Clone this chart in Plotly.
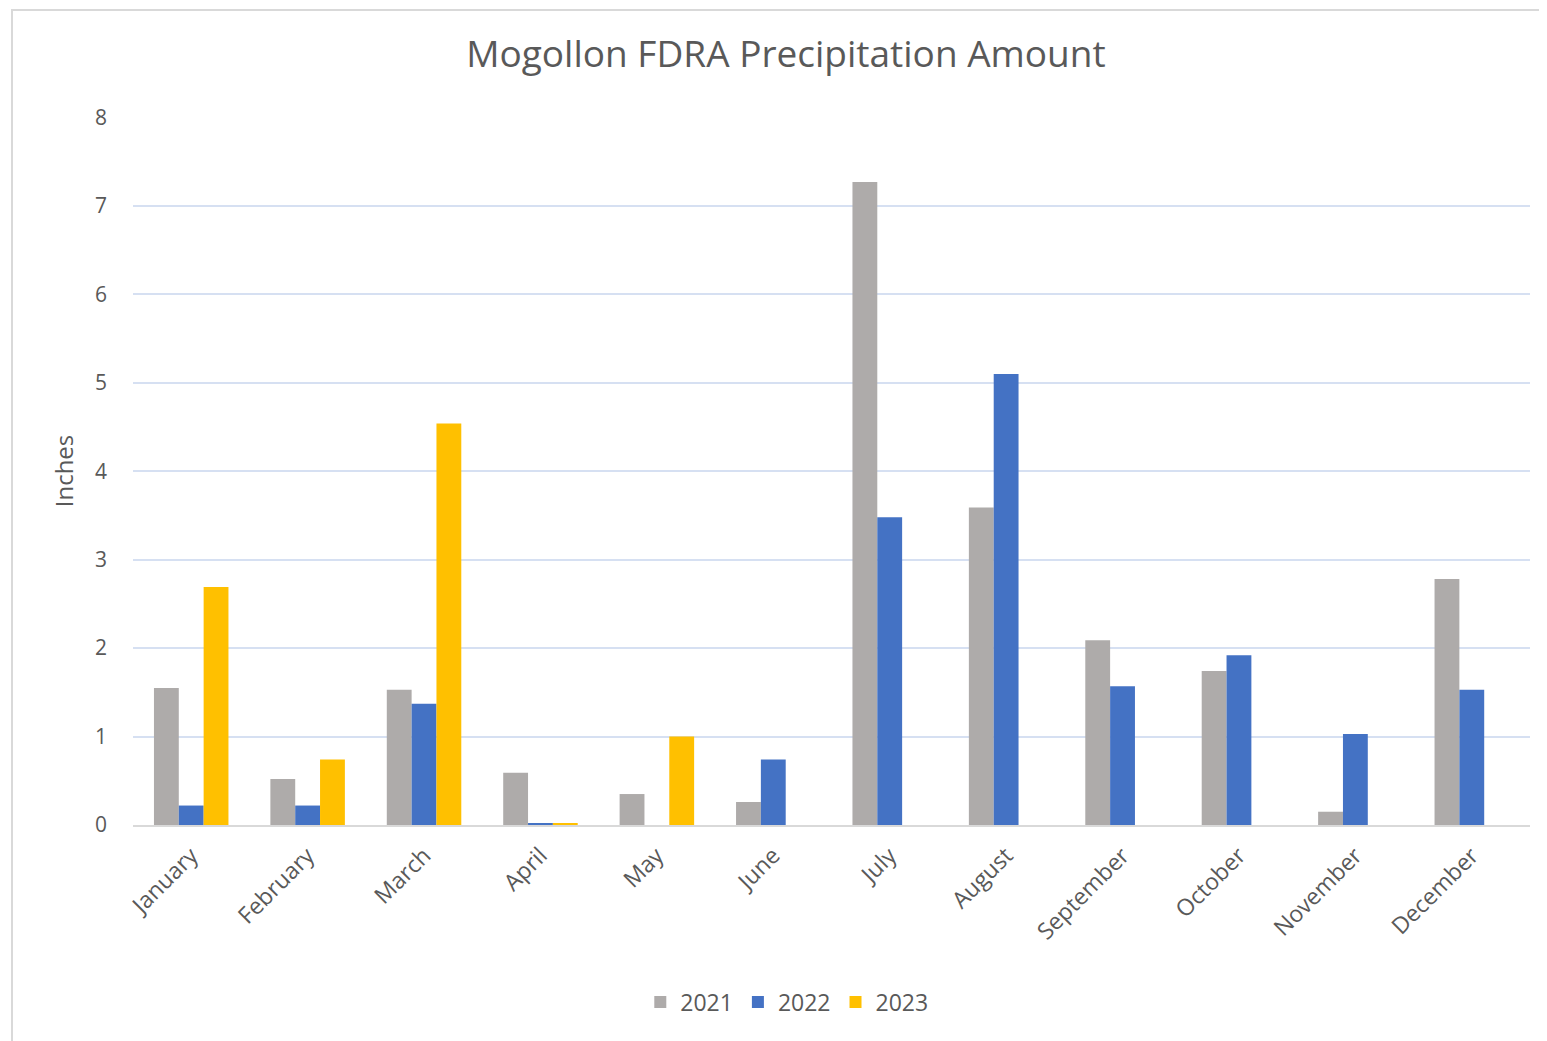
import plotly.graph_objects as go

months = ["January", "February", "March", "April", "May", "June",
          "July", "August", "September", "October", "November", "December"]
y2021 = [1.55, 0.52, 1.53, 0.59, 0.35, 0.26, 7.27, 3.59, 2.09, 1.74, 0.15, 2.78]
y2022 = [0.22, 0.22, 1.37, 0.02, None, 0.74, 3.48, 5.10, 1.57, 1.92, 1.03, 1.53]
y2023 = [2.69, 0.74, 4.54, 0.02, 1.00, None, None, None, None, None, None, None]
series_names = ["2021", "2022", "2023"]
colors = ["#AEABAA", "#4472C4", "#FFC000"]

font_family = "Open Sans, Noto Sans, sans-serif"
text_color = "#595959"

fig = go.Figure()
for name, vals, col in zip(series_names, [y2021, y2022, y2023], colors):
    fig.add_trace(go.Bar(x=months, y=vals, name=name, marker_color=col,
                         marker_line_width=0))

W, H = 1539, 1033
fig.update_layout(
    width=W, height=H,
    paper_bgcolor="white", plot_bgcolor="white",
    margin=dict(l=125, r=17, t=109, b=216),
    barmode="group", bargap=0.36, bargroupgap=0,
    title=dict(text="Mogollon FDRA Precipitation Amount", x=0.5055, xanchor="center",
               y=0.955, yanchor="middle",
               font=dict(family=font_family, size=37, color=text_color)),
    font=dict(family=font_family, color=text_color),
    legend=dict(orientation="h", x=0.468, xanchor="center", y=-0.25, yanchor="middle",
                font=dict(size=23, color=text_color), itemwidth=30,
                traceorder="normal"),
    xaxis=dict(tickangle=-45, tickfont=dict(size=23, color=text_color),
               showgrid=False, showline=True, linecolor="#d9d9d9", linewidth=2,
               ticks="", ticklabelstandoff=6),
    yaxis=dict(range=[0, 8.005], tickvals=[0, 1, 2, 3, 4, 5, 6, 7, 8],
               tickfont=dict(size=21, color=text_color),
               showgrid=True, gridcolor="#d6e0f2", gridwidth=1.5,
               zeroline=False, showline=False, ticks="", ticklabelstandoff=25,
               title=dict(text="Inches", font=dict(size=24, color=text_color), standoff=14)),
    shapes=[dict(type="rect", xref="paper", yref="paper",
                 x0=-0.0866, x1=1.03, y0=-0.32, y1=1.151,
                 line=dict(color="#d9d9d9", width=2), fillcolor="rgba(0,0,0,0)",
                 layer="below")],
)

fig.write_html("out.html")
